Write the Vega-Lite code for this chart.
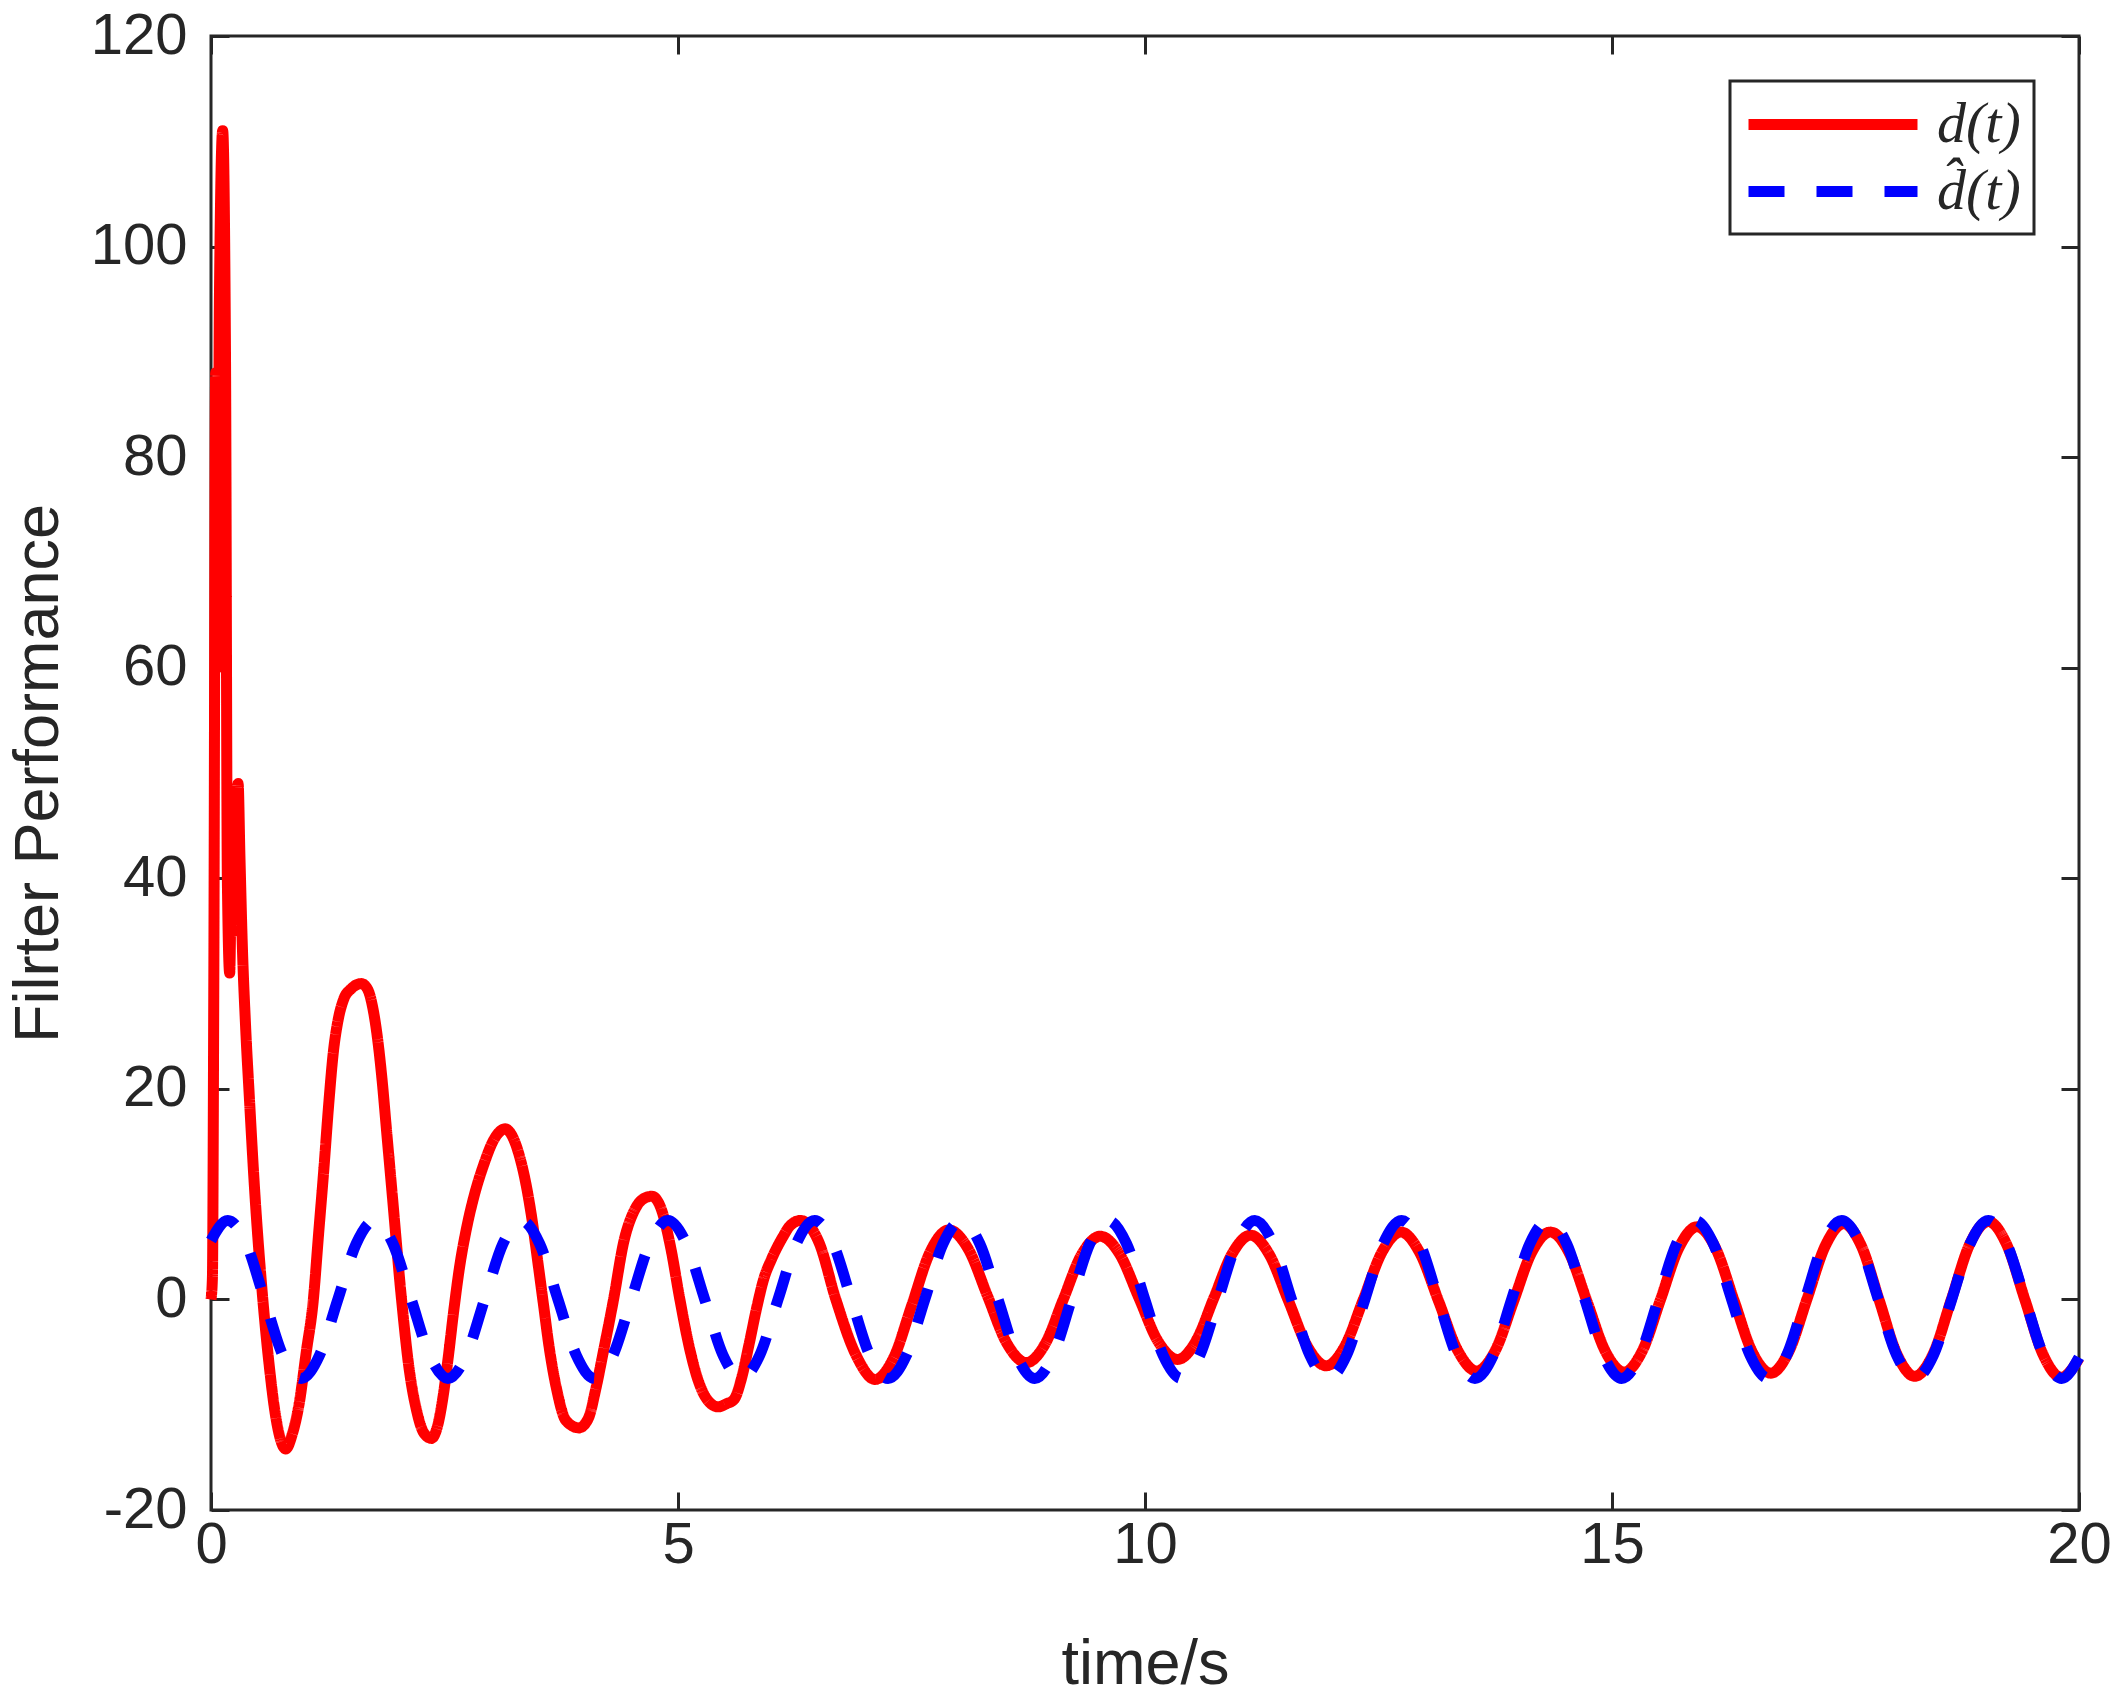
{
  "$schema": "https://vega.github.io/schema/vega-lite/v6.json",
  "width": 1868,
  "height": 1474,
  "autosize": {"type": "none"},
  "padding": {"left": 211, "top": 36, "right": 41, "bottom": 185},
  "background": "white",
  "config": {
    "font": "Liberation Sans",
    "view": {"stroke": "#262626", "strokeWidth": 3},
    "axis": {
      "labelFont": "Liberation Sans", "labelFontSize": 58, "labelColor": "#262626",
      "titleFont": "Liberation Sans", "titleFontSize": 63, "titleFontWeight": "normal", "titleColor": "#262626",
      "grid": false, "domain": false, "tickColor": "#262626", "tickWidth": 3, "tickSize": -18, "labelFlush": false
    },
    "legend": {"strokeWidth": 3}
  },
  "data": {
    "values": [
      {"t":0,"v":0,"s":"d(t)"},{"t":0.015,"v":2,"s":"d(t)"},{"t":0.03,"v":30,"s":"d(t)"},{"t":0.05,"v":88,"s":"d(t)"},
      {"t":0.07,"v":60,"s":"d(t)"},{"t":0.09,"v":95,"s":"d(t)"},{"t":0.125,"v":111,"s":"d(t)"},{"t":0.155,"v":90,"s":"d(t)"},
      {"t":0.175,"v":40,"s":"d(t)"},{"t":0.2,"v":31,"s":"d(t)"},{"t":0.225,"v":45,"s":"d(t)"},{"t":0.245,"v":35,"s":"d(t)"},
      {"t":0.27,"v":45,"s":"d(t)"},{"t":0.29,"v":49,"s":"d(t)"},{"t":0.31,"v":42,"s":"d(t)"},{"t":0.334,"v":34,"s":"d(t)"},
      {"t":0.37,"v":26,"s":"d(t)"},{"t":0.41,"v":19.3,"s":"d(t)"},{"t":0.47,"v":10,"s":"d(t)"},{"t":0.55,"v":0.5,"s":"d(t)"},
      {"t":0.62,"v":-6,"s":"d(t)"},{"t":0.7,"v":-11.5,"s":"d(t)"},{"t":0.8,"v":-14.2,"s":"d(t)"},{"t":0.87,"v":-12.8,"s":"d(t)"},
      {"t":0.944,"v":-9.9,"s":"d(t)"},{"t":1.02,"v":-5,"s":"d(t)"},{"t":1.096,"v":0,"s":"d(t)"},{"t":1.15,"v":6,"s":"d(t)"},
      {"t":1.205,"v":12,"s":"d(t)"},{"t":1.26,"v":18.5,"s":"d(t)"},{"t":1.31,"v":23.5,"s":"d(t)"},{"t":1.36,"v":26.5,"s":"d(t)"},
      {"t":1.42,"v":28.5,"s":"d(t)"},{"t":1.5,"v":29.5,"s":"d(t)"},{"t":1.61,"v":30,"s":"d(t)"},{"t":1.68,"v":29.4,"s":"d(t)"},
      {"t":1.73,"v":27.8,"s":"d(t)"},{"t":1.78,"v":25,"s":"d(t)"},{"t":1.83,"v":21,"s":"d(t)"},{"t":1.88,"v":16,"s":"d(t)"},
      {"t":1.94,"v":10,"s":"d(t)"},
      {"t":2.04,"v":0,"s":"d(t)"},{"t":2.12,"v":-6.5,"s":"d(t)"},{"t":2.2,"v":-10.5,"s":"d(t)"},{"t":2.28,"v":-12.7,"s":"d(t)"},
      {"t":2.36,"v":-13.2,"s":"d(t)"},{"t":2.42,"v":-12.2,"s":"d(t)"},{"t":2.48,"v":-9.5,"s":"d(t)"},{"t":2.54,"v":-5.5,"s":"d(t)"},
      {"t":2.6,"v":-1,"s":"d(t)"},{"t":2.66,"v":3,"s":"d(t)"},{"t":2.73,"v":6.5,"s":"d(t)"},{"t":2.81,"v":9.6,"s":"d(t)"},
      {"t":2.92,"v":12.8,"s":"d(t)"},{"t":3.03,"v":15.2,"s":"d(t)"},{"t":3.15,"v":16.2,"s":"d(t)"},{"t":3.22,"v":15.6,"s":"d(t)"},
      {"t":3.29,"v":14,"s":"d(t)"},{"t":3.36,"v":11.5,"s":"d(t)"},{"t":3.43,"v":8,"s":"d(t)"},{"t":3.5,"v":3.5,"s":"d(t)"},
      {"t":3.56,"v":-0.5,"s":"d(t)"},{"t":3.62,"v":-4.5,"s":"d(t)"},{"t":3.7,"v":-8.5,"s":"d(t)"},{"t":3.8,"v":-11.5,"s":"d(t)"},
      {"t":3.94,"v":-12.2,"s":"d(t)"},{"t":4.04,"v":-11.3,"s":"d(t)"},{"t":4.12,"v":-8.5,"s":"d(t)"},{"t":4.2,"v":-5,"s":"d(t)"},
      {"t":4.31,"v":0,"s":"d(t)"},{"t":4.42,"v":5.5,"s":"d(t)"},{"t":4.53,"v":8.4,"s":"d(t)"},{"t":4.62,"v":9.5,"s":"d(t)"},
      {"t":4.72,"v":9.8,"s":"d(t)"},{"t":4.82,"v":8.6,"s":"d(t)"},{"t":4.92,"v":5,"s":"d(t)"},{"t":5.02,"v":0,"s":"d(t)"},
      {"t":5.12,"v":-4.5,"s":"d(t)"},{"t":5.22,"v":-7.8,"s":"d(t)"},{"t":5.32,"v":-9.6,"s":"d(t)"},{"t":5.43,"v":-10.2,"s":"d(t)"},
      {"t":5.52,"v":-9.9,"s":"d(t)"},{"t":5.6,"v":-9.5,"s":"d(t)"},{"t":5.68,"v":-7.5,"s":"d(t)"},{"t":5.76,"v":-4.3,"s":"d(t)"},
      {"t":5.85,"v":-0.5,"s":"d(t)"},{"t":5.92,"v":2,"s":"d(t)"},{"t":6.0,"v":3.8,"s":"d(t)"},{"t":6.12,"v":5.9,"s":"d(t)"},
      {"t":6.2,"v":7,"s":"d(t)"},{"t":6.31,"v":7.5,"s":"d(t)"},{"t":6.51,"v":5.4,"s":"d(t)"},{"t":6.69,"v":0,"s":"d(t)"},
      {"t":6.91,"v":-5.36,"s":"d(t)"},{"t":7.11,"v":-7.6,"s":"d(t)"},{"t":7.31,"v":-5.52,"s":"d(t)"},{"t":7.505,"v":-0.5,"s":"d(t)"},
      {"t":7.7,"v":4.52,"s":"d(t)"},{"t":7.9,"v":6.6,"s":"d(t)"},{"t":8.11,"v":4.75,"s":"d(t)"},{"t":8.315,"v":0.3,"s":"d(t)"},
      {"t":8.52,"v":-4.15,"s":"d(t)"},{"t":8.73,"v":-6,"s":"d(t)"},{"t":8.93,"v":-4.24,"s":"d(t)"},{"t":9.125,"v":0,"s":"d(t)"},
      {"t":9.32,"v":4.24,"s":"d(t)"},{"t":9.52,"v":6,"s":"d(t)"},{"t":9.73,"v":4.29,"s":"d(t)"},{"t":9.935,"v":0.15,"s":"d(t)"},
      {"t":10.14,"v":-3.99,"s":"d(t)"},{"t":10.35,"v":-5.7,"s":"d(t)"},{"t":10.545,"v":-3.97,"s":"d(t)"},{"t":10.74,"v":0.2,"s":"d(t)"},
      {"t":10.935,"v":4.37,"s":"d(t)"},{"t":11.13,"v":6.1,"s":"d(t)"},{"t":11.33,"v":4.28,"s":"d(t)"},{"t":11.535,"v":-0.1,"s":"d(t)"},
      {"t":11.74,"v":-4.48,"s":"d(t)"},{"t":11.94,"v":-6.3,"s":"d(t)"},{"t":12.14,"v":-4.44,"s":"d(t)"},{"t":12.34,"v":0.05,"s":"d(t)"},
      {"t":12.54,"v":4.54,"s":"d(t)"},{"t":12.74,"v":6.4,"s":"d(t)"},{"t":12.94,"v":4.47,"s":"d(t)"},{"t":13.145,"v":-0.2,"s":"d(t)"},
      {"t":13.35,"v":-4.87,"s":"d(t)"},{"t":13.55,"v":-6.8,"s":"d(t)"},{"t":13.75,"v":-4.87,"s":"d(t)"},{"t":13.945,"v":-0.2,"s":"d(t)"},
      {"t":14.14,"v":4.47,"s":"d(t)"},{"t":14.34,"v":6.4,"s":"d(t)"},{"t":14.54,"v":4.45,"s":"d(t)"},{"t":14.735,"v":-0.25,"s":"d(t)"},
      {"t":14.93,"v":-4.95,"s":"d(t)"},{"t":15.13,"v":-6.9,"s":"d(t)"},{"t":15.325,"v":-4.88,"s":"d(t)"},{"t":15.52,"v":0,"s":"d(t)"},
      {"t":15.715,"v":4.88,"s":"d(t)"},{"t":15.91,"v":6.9,"s":"d(t)"},{"t":16.11,"v":4.86,"s":"d(t)"},{"t":16.305,"v":-0.05,"s":"d(t)"},
      {"t":16.5,"v":-4.96,"s":"d(t)"},{"t":16.7,"v":-7,"s":"d(t)"},{"t":16.895,"v":-4.92,"s":"d(t)"},{"t":17.09,"v":0.1,"s":"d(t)"},
      {"t":17.285,"v":5.12,"s":"d(t)"},{"t":17.48,"v":7.2,"s":"d(t)"},{"t":17.67,"v":5.08,"s":"d(t)"},{"t":17.86,"v":-0.05,"s":"d(t)"},
      {"t":18.05,"v":-5.18,"s":"d(t)"},{"t":18.24,"v":-7.3,"s":"d(t)"},{"t":18.44,"v":-5.15,"s":"d(t)"},{"t":18.635,"v":0.05,"s":"d(t)"},
      {"t":18.83,"v":5.25,"s":"d(t)"},{"t":19.03,"v":7.4,"s":"d(t)"},{"t":19.225,"v":5.23,"s":"d(t)"},{"t":19.42,"v":0,"s":"d(t)"},
      {"t":19.615,"v":-5.23,"s":"d(t)"},{"t":19.81,"v":-7.4,"s":"d(t)"},{"t":20,"v":-5.6,"s":"d(t)"},

      {"t":0,"v":5.6,"s":"d\u0302(t)"},{"t":0.18,"v":7.5,"s":"d\u0302(t)"},{"t":0.377,"v":5.3,"s":"d\u0302(t)"},{"t":0.573,"v":0,"s":"d\u0302(t)"},
      {"t":0.769,"v":-5.3,"s":"d\u0302(t)"},{"t":0.966,"v":-7.5,"s":"d\u0302(t)"},{"t":1.162,"v":-5.3,"s":"d\u0302(t)"},{"t":1.358,"v":0,"s":"d\u0302(t)"},
      {"t":1.555,"v":5.3,"s":"d\u0302(t)"},{"t":1.751,"v":7.5,"s":"d\u0302(t)"},{"t":1.948,"v":5.3,"s":"d\u0302(t)"},{"t":2.144,"v":0,"s":"d\u0302(t)"},
      {"t":2.34,"v":-5.3,"s":"d\u0302(t)"},{"t":2.537,"v":-7.5,"s":"d\u0302(t)"},{"t":2.733,"v":-5.3,"s":"d\u0302(t)"},{"t":2.929,"v":0,"s":"d\u0302(t)"},
      {"t":3.126,"v":5.3,"s":"d\u0302(t)"},{"t":3.322,"v":7.5,"s":"d\u0302(t)"},{"t":3.518,"v":5.3,"s":"d\u0302(t)"},{"t":3.715,"v":0,"s":"d\u0302(t)"},
      {"t":3.911,"v":-5.3,"s":"d\u0302(t)"},{"t":4.107,"v":-7.5,"s":"d\u0302(t)"},{"t":4.304,"v":-5.3,"s":"d\u0302(t)"},{"t":4.5,"v":0,"s":"d\u0302(t)"},
      {"t":4.697,"v":5.3,"s":"d\u0302(t)"},{"t":4.893,"v":7.5,"s":"d\u0302(t)"},{"t":5.089,"v":5.3,"s":"d\u0302(t)"},{"t":5.286,"v":0,"s":"d\u0302(t)"},
      {"t":5.482,"v":-5.3,"s":"d\u0302(t)"},{"t":5.678,"v":-7.5,"s":"d\u0302(t)"},{"t":5.875,"v":-5.3,"s":"d\u0302(t)"},{"t":6.071,"v":0,"s":"d\u0302(t)"},
      {"t":6.267,"v":5.3,"s":"d\u0302(t)"},{"t":6.464,"v":7.5,"s":"d\u0302(t)"},{"t":6.66,"v":5.3,"s":"d\u0302(t)"},{"t":6.856,"v":0,"s":"d\u0302(t)"},
      {"t":7.053,"v":-5.3,"s":"d\u0302(t)"},{"t":7.249,"v":-7.5,"s":"d\u0302(t)"},{"t":7.446,"v":-5.3,"s":"d\u0302(t)"},{"t":7.642,"v":0,"s":"d\u0302(t)"},
      {"t":7.838,"v":5.3,"s":"d\u0302(t)"},{"t":8.035,"v":7.5,"s":"d\u0302(t)"},{"t":8.231,"v":5.3,"s":"d\u0302(t)"},{"t":8.427,"v":0,"s":"d\u0302(t)"},
      {"t":8.624,"v":-5.3,"s":"d\u0302(t)"},{"t":8.82,"v":-7.5,"s":"d\u0302(t)"},{"t":9.016,"v":-5.3,"s":"d\u0302(t)"},{"t":9.213,"v":0,"s":"d\u0302(t)"},
      {"t":9.409,"v":5.3,"s":"d\u0302(t)"},{"t":9.605,"v":7.5,"s":"d\u0302(t)"},{"t":9.802,"v":5.3,"s":"d\u0302(t)"},{"t":9.998,"v":0,"s":"d\u0302(t)"},
      {"t":10.194,"v":-5.3,"s":"d\u0302(t)"},{"t":10.391,"v":-7.5,"s":"d\u0302(t)"},{"t":10.587,"v":-5.3,"s":"d\u0302(t)"},{"t":10.783,"v":0,"s":"d\u0302(t)"},
      {"t":10.98,"v":5.3,"s":"d\u0302(t)"},{"t":11.176,"v":7.5,"s":"d\u0302(t)"},{"t":11.372,"v":5.3,"s":"d\u0302(t)"},{"t":11.569,"v":0,"s":"d\u0302(t)"},
      {"t":11.765,"v":-5.3,"s":"d\u0302(t)"},{"t":11.962,"v":-7.5,"s":"d\u0302(t)"},{"t":12.158,"v":-5.3,"s":"d\u0302(t)"},{"t":12.354,"v":0,"s":"d\u0302(t)"},
      {"t":12.551,"v":5.3,"s":"d\u0302(t)"},{"t":12.747,"v":7.5,"s":"d\u0302(t)"},{"t":12.943,"v":5.3,"s":"d\u0302(t)"},{"t":13.14,"v":0,"s":"d\u0302(t)"},
      {"t":13.336,"v":-5.3,"s":"d\u0302(t)"},{"t":13.532,"v":-7.5,"s":"d\u0302(t)"},{"t":13.729,"v":-5.3,"s":"d\u0302(t)"},{"t":13.925,"v":0,"s":"d\u0302(t)"},
      {"t":14.121,"v":5.3,"s":"d\u0302(t)"},{"t":14.318,"v":7.5,"s":"d\u0302(t)"},{"t":14.514,"v":5.3,"s":"d\u0302(t)"},{"t":14.71,"v":0,"s":"d\u0302(t)"},
      {"t":14.907,"v":-5.3,"s":"d\u0302(t)"},{"t":15.103,"v":-7.5,"s":"d\u0302(t)"},{"t":15.299,"v":-5.3,"s":"d\u0302(t)"},{"t":15.496,"v":0,"s":"d\u0302(t)"},
      {"t":15.692,"v":5.3,"s":"d\u0302(t)"},{"t":15.888,"v":7.5,"s":"d\u0302(t)"},{"t":16.085,"v":5.3,"s":"d\u0302(t)"},{"t":16.281,"v":0,"s":"d\u0302(t)"},
      {"t":16.478,"v":-5.3,"s":"d\u0302(t)"},{"t":16.674,"v":-7.5,"s":"d\u0302(t)"},{"t":16.87,"v":-5.3,"s":"d\u0302(t)"},{"t":17.067,"v":0,"s":"d\u0302(t)"},
      {"t":17.263,"v":5.3,"s":"d\u0302(t)"},{"t":17.459,"v":7.5,"s":"d\u0302(t)"},{"t":17.656,"v":5.3,"s":"d\u0302(t)"},{"t":17.852,"v":0,"s":"d\u0302(t)"},
      {"t":18.048,"v":-5.3,"s":"d\u0302(t)"},{"t":18.245,"v":-7.5,"s":"d\u0302(t)"},{"t":18.441,"v":-5.3,"s":"d\u0302(t)"},{"t":18.637,"v":0,"s":"d\u0302(t)"},
      {"t":18.834,"v":5.3,"s":"d\u0302(t)"},{"t":19.03,"v":7.5,"s":"d\u0302(t)"},{"t":19.226,"v":5.3,"s":"d\u0302(t)"},{"t":19.423,"v":0,"s":"d\u0302(t)"},
      {"t":19.619,"v":-5.3,"s":"d\u0302(t)"},{"t":19.815,"v":-7.5,"s":"d\u0302(t)"},{"t":20,"v":-5.5,"s":"d\u0302(t)"}
    ]
  },
  "layer": [
    {
      "mark": {"type": "line", "interpolate": "monotone", "strokeWidth": 11, "strokeCap": "butt", "strokeJoin": "round"},
      "encoding": {
        "x": {
          "field": "t", "type": "quantitative",
          "scale": {"domain": [0, 20], "nice": false},
          "axis": {"orient": "bottom", "values": [0, 5, 10, 15, 20], "title": "time/s", "titlePadding": 59, "labelPadding": 24, "labelExpr": "'' + datum.value"}
        },
        "y": {
          "field": "v", "type": "quantitative",
          "scale": {"domain": [-20, 120], "nice": false},
          "axis": {"orient": "left", "values": [-20, 0, 20, 40, 60, 80, 100, 120], "title": "Filrter Performance", "titlePadding": 20, "labelPadding": 42, "labelExpr": "'' + datum.value"}
        },
        "color": {
          "field": "s", "type": "nominal",
          "scale": {"domain": ["d(t)", "d\u0302(t)"], "range": ["#ff0000", "#0000ff"]},
          "legend": {
            "title": null, "orient": "top-right", "offset": 45,
            "symbolType": "M-1,0H5.76", "symbolSize": 2500, "symbolStrokeWidth": 11,
            "labelFont": "Liberation Serif", "labelFontStyle": "italic", "labelFontSize": 58, "labelColor": "#262626",
            "labelOffset": 133, "rowPadding": 7, "padding": 13,
            "strokeColor": "#262626", "fillColor": "white"
          }
        },
        "strokeDash": {
          "field": "s", "type": "nominal",
          "scale": {"domain": ["d(t)", "d\u0302(t)"], "range": [[1, 0], [36, 32]]},
          "legend": {
            "title": null, "orient": "top-right", "offset": 45,
            "symbolType": "M-1,0H5.76", "symbolSize": 2500, "symbolStrokeWidth": 11,
            "labelFont": "Liberation Serif", "labelFontStyle": "italic", "labelFontSize": 58, "labelColor": "#262626",
            "labelOffset": 133, "rowPadding": 7, "padding": 13,
            "strokeColor": "#262626", "fillColor": "white"
          }
        }
      }
    },
    {
      "mark": {"type": "point", "opacity": 0},
      "encoding": {
        "x": {"field": "t", "type": "quantitative", "axis": {"orient": "top", "values": [0, 5, 10, 15, 20], "labels": false, "title": null}},
        "y": {"field": "v", "type": "quantitative", "axis": {"orient": "right", "values": [-20, 0, 20, 40, 60, 80, 100, 120], "labels": false, "title": null}}
      }
    }
  ],
  "resolve": {"axis": {"x": "independent", "y": "independent"}}
}
